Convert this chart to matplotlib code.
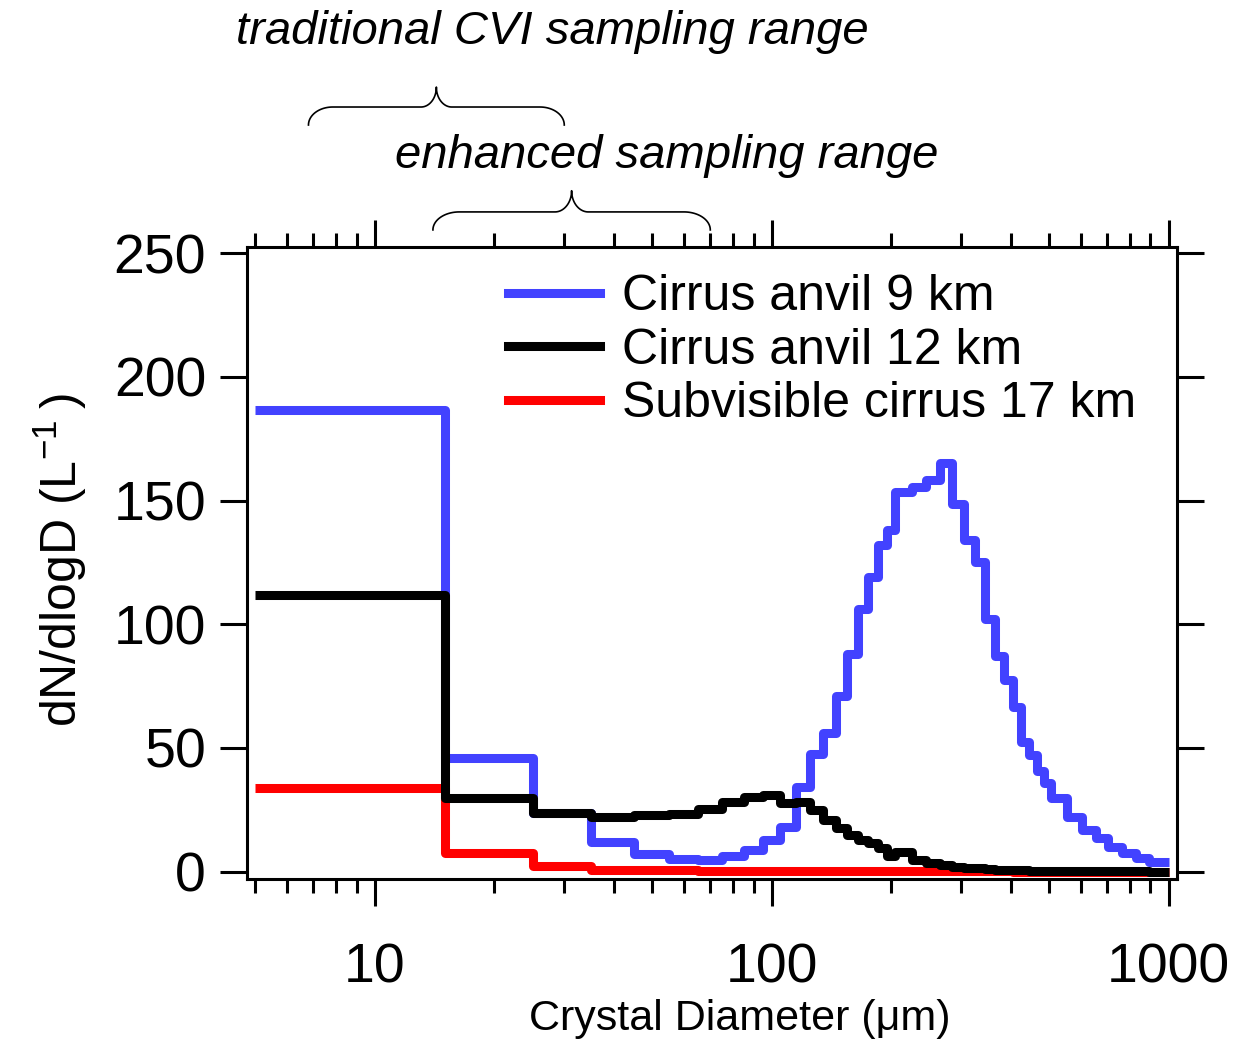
import numpy as np
import matplotlib
matplotlib.use("Agg")
import matplotlib.pyplot as plt
import matplotlib.transforms as mtransforms
from matplotlib.ticker import LogLocator, NullFormatter, FuncFormatter, NullLocator

plt.rcParams['font.family'] = ['Liberation Sans', 'DejaVu Sans']
plt.rcParams['mathtext.fontset'] = 'custom'
plt.rcParams['mathtext.rm'] = 'Liberation Sans'
plt.rcParams['mathtext.it'] = 'Liberation Sans:italic'
plt.rcParams['mathtext.default'] = 'regular'

# size bin edges (um)
bin_edges = [5, 15, 25, 35, 45, 55, 65, 75, 85, 95, 105, 115, 125, 135, 145,
             155, 165, 175, 185, 195, 205, 225, 245, 265, 285, 305, 325, 345,
             365, 385, 405, 425, 445, 465, 485, 505, 555, 605, 655, 705, 765,
             830, 895, 1000]

# dN/dlogD (L-1) per bin
anvil_9km = [186.5, 46, 23.5, 12, 7.2, 5.0, 4.5, 6.3, 8.8, 12.8,
             18, 34, 47.5, 56, 71, 88, 106, 119, 132, 138,
             153.6, 155.6, 158.3, 165, 148.5, 134, 125, 102, 87, 77.5,
             66.5, 52.5, 47, 40.5, 35.7, 29.7, 22.2, 16.9, 13.5, 10.1,
             7.4, 5.4, 4.0]
anvil_12km = [112, 29.8, 23.8, 22.2, 22.9, 23.4, 25.4, 28.0, 30.0, 30.8,
              27.8, 28.0, 25.0, 20.9, 17.5, 14.8, 12.8, 11.5, 9.5, 6.1,
              8.1, 4.7, 3.4, 2.6, 2.0, 1.6, 1.3, 1.0, 0.8, 0.7,
              0.6, 0.5, 0.4, 0.35, 0.3, 0.25, 0.2, 0.15, 0.12, 0.1,
              0.08, 0.05, 0.03]
subvis_17km = [33.7, 7.7, 2.3, 0.8, 0.6, 0.5, 0.4, 0.35, 0.3, 0.3,
               0.25, 0.25, 0.2, 0.2, 0.2, 0.15, 0.15, 0.15, 0.1, 0.1,
               0.1, 0.1, 0.08, 0.08, 0.06, 0.06, 0.05, 0.05, 0.04, 0.04,
               0.03, 0.03, 0.03, 0.02, 0.02, 0.02, 0.02, 0.01, 0.01, 0.01,
               0.01, 0.01, 0.01]

series_labels = ['Cirrus anvil 9 km', 'Cirrus anvil 12 km', 'Subvisible cirrus 17 km']
series_colors = ['#4242FF', 'black', '#FF0000']

cvi_range = (6.8, 30)
enhanced_range = (14, 70)


def draw_brace(ax, x0, x1, y0, h1, h2, a_end=0.19, a_cusp=0.12):
    # curly brace spanning x0..x1 (data, log axis), y in axes fraction
    trans = mtransforms.blended_transform_factory(ax.transData, ax.transAxes)
    l0, l1 = np.log10(x0), np.log10(x1)
    half = (l1 - l0) / 2
    phi = np.linspace(0, np.pi / 2, 30)
    xa = a_end * half * (1 - np.cos(phi))
    ya = h1 * np.sin(phi)
    xb = (1 - a_cusp) * half + a_cusp * half * np.sin(phi)
    yb = h2 - (h2 - h1) * np.cos(phi)
    xs = np.concatenate([xa, xb])
    ys = np.concatenate([ya, yb])
    xs = np.concatenate([xs, 2 * half - xs[::-1]])
    ys = np.concatenate([ys, ys[::-1]])
    ax.plot(10 ** (l0 + xs), y0 + ys, transform=trans, clip_on=False,
            color='black', lw=1.2)


W, H = 1238, 1042
fig = plt.figure(figsize=(W / 100, H / 100), dpi=100)
ax = fig.add_axes([247 / W, (H - 879) / H, 930 / W, 632 / H])

lw = 6.5
h_red = ax.stairs(subvis_17km, bin_edges, baseline=None, color=series_colors[2],
                  lw=lw, joinstyle='round')
h_blue = ax.stairs(anvil_9km, bin_edges, baseline=None, color=series_colors[0],
                   lw=lw, joinstyle='round')
h_black = ax.stairs(anvil_12km, bin_edges, baseline=None, color=series_colors[1],
                    lw=lw, joinstyle='round')

ax.legend([h_blue, h_black, h_red], series_labels, loc='upper left',
          bbox_to_anchor=(0.2806, 0.957), frameon=False, borderpad=0,
          borderaxespad=0, handlelength=1.84, handletextpad=0.44,
          labelspacing=0.15, fontsize=36)

ax.set_xscale('log')
ax.xaxis.set_major_locator(LogLocator(base=10))
ax.xaxis.set_minor_locator(LogLocator(base=10, subs=np.arange(2, 10)))
ax.xaxis.set_minor_formatter(NullFormatter())
ax.xaxis.set_major_formatter(FuncFormatter(lambda v, p: f'{v:g}'))
ax.set_yticks([0, 50, 100, 150, 200, 250])
ax.yaxis.set_minor_locator(NullLocator())

ax.tick_params(which='both', direction='out', top=True, right=True,
               labeltop=False, labelright=False, width=2.2)
ax.tick_params(which='major', length=19.5)
ax.tick_params(which='minor', length=10)
ax.tick_params(axis='x', which='major', pad=26, labelsize=40)
ax.tick_params(axis='y', pad=10, labelsize=40)
for s in ax.spines.values():
    s.set_linewidth(2.2)

draw_brace(ax, cvi_range[0], cvi_range[1], 1.193, 0.0285, 0.060)
draw_brace(ax, enhanced_range[0], enhanced_range[1], 1.027, 0.0285, 0.062)

ax.set_xlim(4.76, 1050)
ax.set_ylim(-3, 252.5)

fig.text(552 / W, 1 - 32 / H, 'traditional CVI sampling range', style='italic',
         fontsize=34, ha='center', va='center')
fig.text(667 / W, 1 - 156 / H, 'enhanced sampling range', style='italic',
         fontsize=34, ha='center', va='center')
fig.text(740 / W, 1 - 1019 / H, 'Crystal Diameter (μm)', fontsize=31,
         ha='center', va='center')
fig.text(60 / W, 1 - 560 / H, 'dN/dlogD (L$^{-1}$\u2009)', fontsize=36,
         rotation=90, ha='center', va='center')

fig.savefig('out.png', dpi=100)
